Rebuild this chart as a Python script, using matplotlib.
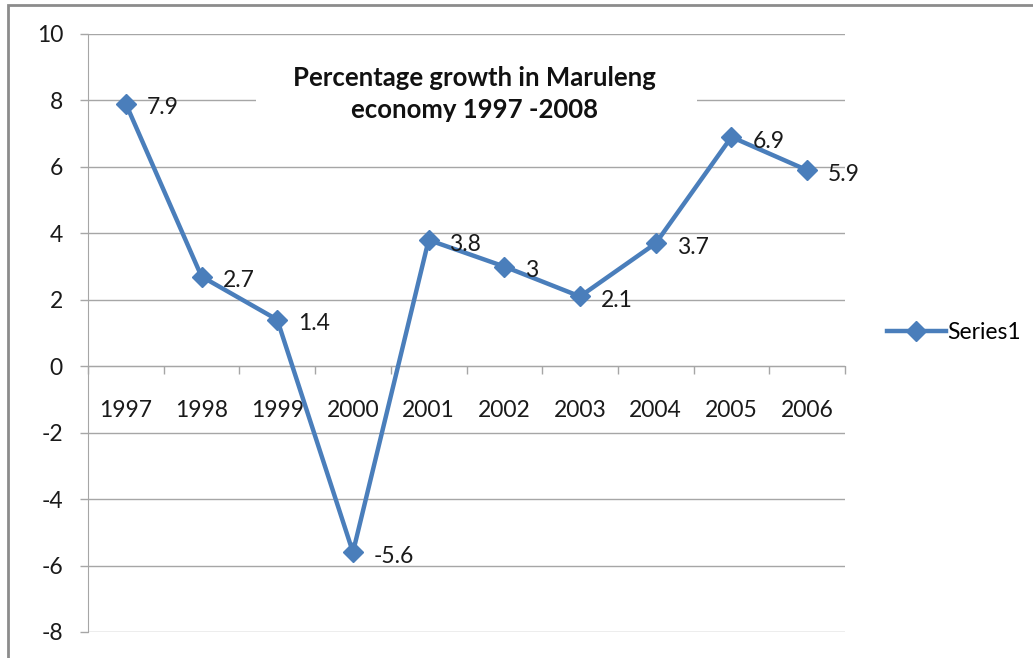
import matplotlib
matplotlib.use("Agg")
import matplotlib.pyplot as plt
from matplotlib.patches import Rectangle

# Growth figures per year
years = ["1997", "1998", "1999", "2000", "2001", "2002", "2003", "2004", "2005", "2006"]
growth = [7.9, 2.7, 1.4, -5.6, 3.8, 3, 2.1, 3.7, 6.9, 5.9]
value_labels = ["7.9", "2.7", "1.4", "-5.6", "3.8", "3", "2.1", "3.7", "6.9", "5.9"]
y_ticks = [-8, -6, -4, -2, 0, 2, 4, 6, 8, 10]

blue = "#4A7EBB"
grid_gray = "#A6A6A6"
txt_color = "#1a1a1a"
fs = 16.5

plt.rcParams["font.family"] = ["Lato", "DejaVu Sans"]

fig = plt.figure(figsize=(10.33, 6.58), dpi=100)
ax = fig.add_axes([88 / 1033, 1 - 632 / 658, (845 - 88) / 1033, (632 - 34) / 658])

x = list(range(len(years)))
ax.plot(x, growth, color=blue, lw=3.2, marker="D", ms=10.5, mfc=blue, mec=blue,
        label="Series1", zorder=3)

for xi, yi, txt in zip(x, growth, value_labels):
    ax.annotate(txt, (xi, yi), xytext=(15, -3), textcoords="offset points",
                ha="left", va="center", fontsize=fs, color=txt_color)

ax.set_xlim(-0.5, len(years) - 0.5)
ax.set_ylim(-8, 10)
ax.set_yticks(y_ticks)
ax.set_yticklabels([str(v) for v in y_ticks])
ax.tick_params(axis="y", length=6, width=1, color=grid_gray, pad=12,
               labelsize=fs, labelcolor=txt_color)
ax.yaxis.grid(True, color=grid_gray, lw=1)
ax.set_axisbelow(True)

# tick marks between categories, labels at category centres
ax.set_xticks([i - 0.5 for i in range(len(years) + 1)])
ax.set_xticklabels([""] * (len(years) + 1))
ax.set_xticks(x, minor=True)
ax.set_xticklabels(years, minor=True)
ax.tick_params(axis="x", which="major", direction="out", length=6, width=1, color=grid_gray)
ax.tick_params(axis="x", which="minor", length=0, pad=24, labelsize=fs, labelcolor=txt_color)

for side in ["top", "right"]:
    ax.spines[side].set_visible(False)
ax.spines["bottom"].set_position(("data", 0))
ax.spines["bottom"].set_color(grid_gray)
ax.spines["left"].set_color(grid_gray)

# title box sits inside the plot area and hides the gridline behind it
ax.add_patch(Rectangle((0.222, 0.823), 0.582, 0.15, transform=ax.transAxes,
                       fc="white", ec="none", zorder=2))
ax.text(0.511, 0.9, "Percentage growth in Maruleng\neconomy 1997 -2008",
        transform=ax.transAxes, ha="center", va="center", fontsize=18.5,
        fontweight="bold", linespacing=1.4, color="#111111", zorder=4)

fig.legend(loc="center left", bbox_to_anchor=(866 / 1033, 1 - 333 / 658),
           frameon=False, fontsize=fs, handlelength=2.6, handletextpad=0.05)

fig.patches.append(Rectangle((8 / 1033, -0.1), 1.2, 1.1 - 5 / 658, transform=fig.transFigure,
                             fill=False, ec="#8C8C8C", lw=2, clip_on=False))

fig.savefig("out.png", dpi=100, facecolor="white")
